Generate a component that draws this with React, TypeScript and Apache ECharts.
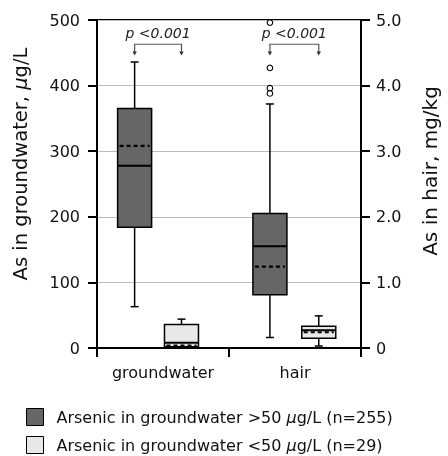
import React, { useEffect, useRef } from 'react';
import * as echarts from 'echarts';

// ---- data ----
const categories = ['groundwater', 'hair'];
// [min, q1, median, q3, max, mean]
const highGroundwater = [63, 184, 278, 365, 436, 308]; // µg/L
const lowGroundwater = [0.5, 2, 8, 36, 44, 3.5]; // µg/L
const highHair = [0.16, 0.81, 1.55, 2.05, 3.72, 1.24]; // mg/kg
const lowHair = [0.03, 0.15, 0.27, 0.33, 0.49, 0.24]; // mg/kg
const hairOutliersHigh = [4.96, 4.27, 3.96, 3.88]; // mg/kg
const pLabels = ['p <0.001', 'p <0.001'];
const leftAxisRange = [0, 500, 100];
const rightAxisRange = [0, 5, 1];

const HIGH_NAME = 'Arsenic in groundwater >50 μg/L (n=255)';
const LOW_NAME = 'Arsenic in groundwater <50 μg/L (n=29)';

const FONT = 'DejaVu Sans';
const DARK = '#666666';
const LIGHT = '#e8e8e8';
const BOX_W = 34;
const CAP_W = 8;
// box centre offsets, as a fraction of the category band, per category
const OFF_HIGH = [-0.215, -0.19];
const OFF_LOW = [0.14, 0.18];

const boxRenderer = (offsets: number[], fill: string) => (params: any, api: any) => {
  const cat = api.value(0);
  const bw = api.size([1, 0])[0];
  const cx = api.coord([cat, 0])[0] + offsets[cat] * bw;
  const yv = (i: number) => api.coord([cat, api.value(i)])[1];
  const yMin = yv(1), yQ1 = yv(2), yMed = yv(3), yQ3 = yv(4), yMax = yv(5), yMean = yv(6);
  const h = BOX_W / 2;
  const stroke = { stroke: '#000', lineWidth: 1.5 };
  return {
    type: 'group',
    children: [
      { type: 'line', shape: { x1: cx, y1: yQ3, x2: cx, y2: yMax }, style: stroke },
      { type: 'line', shape: { x1: cx - CAP_W / 2, y1: yMax, x2: cx + CAP_W / 2, y2: yMax }, style: stroke },
      { type: 'line', shape: { x1: cx, y1: yQ1, x2: cx, y2: yMin }, style: stroke },
      { type: 'line', shape: { x1: cx - CAP_W / 2, y1: yMin, x2: cx + CAP_W / 2, y2: yMin }, style: stroke },
      { type: 'rect', shape: { x: cx - h, y: yQ3, width: BOX_W, height: yQ1 - yQ3 }, style: { fill, stroke: '#000', lineWidth: 1.5 } },
      { type: 'line', shape: { x1: cx - h, y1: yMed, x2: cx + h, y2: yMed }, style: { stroke: '#000', lineWidth: 2 } },
      { type: 'line', shape: { x1: cx - h + 2, y1: yMean, x2: cx + h - 2, y2: yMean }, style: { stroke: '#000', lineWidth: 2.2, lineDash: [4, 3] } },
    ],
  };
};

const outlierRenderer = (offsets: number[]) => (params: any, api: any) => {
  const cat = api.value(0);
  const bw = api.size([1, 0])[0];
  const p = api.coord([cat, api.value(1)]);
  return {
    type: 'circle',
    shape: { cx: p[0] + offsets[cat] * bw, cy: p[1], r: 2.8 },
    style: { fill: '#fff', stroke: '#000', lineWidth: 1.1 },
  };
};

const bracketRenderer = (params: any, api: any) => {
  const cat = api.value(0);
  const bw = api.size([1, 0])[0];
  const c = api.coord([cat, 0])[0];
  const x1 = c + OFF_HIGH[cat] * bw;
  const x2 = c + OFF_LOW[cat] * bw;
  const yText = api.coord([cat, 480])[1];
  const yTop = api.coord([cat, 463])[1];
  const yTip = api.coord([cat, 446])[1];
  const ls = { stroke: '#555', lineWidth: 1.2 };
  const arrow = (x: number) => ({
    type: 'polygon',
    shape: { points: [[x - 2.2, yTip - 4], [x + 2.2, yTip - 4], [x, yTip]] },
    style: { fill: '#333' },
  });
  return {
    type: 'group',
    children: [
      { type: 'polyline', shape: { points: [[x1, yTip - 3], [x1, yTop], [x2, yTop], [x2, yTip - 3]] }, style: { ...ls, fill: 'none' } },
      arrow(x1),
      arrow(x2),
      {
        type: 'text',
        x: (x1 + x2) / 2,
        y: yText,
        style: {
          text: pLabels[params.dataIndex],
          fontFamily: FONT,
          fontSize: 14,
          fontStyle: 'italic',
          fill: '#222',
          align: 'center',
          verticalAlign: 'middle',
        },
      },
    ],
  };
};

export default function App() {
  const ref = useRef<HTMLDivElement>(null);
  useEffect(() => {
    if (!ref.current) return;
    document.body.style.margin = '0';
    const chart = echarts.init(ref.current, null, { renderer: 'svg', width: 448, height: 456 });
    const tickFont = { fontFamily: FONT, fontSize: 16, color: '#111' };
    const nameStyle = (size: number, padLeft: number) => ({
      fontFamily: FONT,
      fontSize: size,
      color: '#111',
      padding: [0, 0, 0, padLeft],
      rich: { i: { fontFamily: FONT, fontSize: size, fontStyle: 'italic', color: '#111' } },
    });
    const axisLineStyle = { color: '#000', width: 2 };
    const legendFormatter = (name: string) => name.replace('μ', '{i|μ}');
    chart.setOption({
      animation: false,
      grid: { left: 97, right: 81, top: 20, bottom: 108, show: true, borderColor: '#000', borderWidth: 2 },
      legend: {
        type: 'plain',
        orient: 'vertical',
        left: 26,
        top: 408,
        height: 60,
        itemWidth: 17,
        itemHeight: 17,
        itemGap: 10,
        padding: 0,
        selectedMode: false,
        icon: 'rect',
        formatter: legendFormatter,
        textStyle: {
          fontFamily: FONT,
          fontSize: 16,
          color: '#111',
          padding: [0, 0, 0, 8],
          rich: { i: { fontFamily: FONT, fontSize: 16, fontStyle: 'italic', color: '#111' } },
        },
        data: [
          { name: HIGH_NAME, itemStyle: { color: DARK, borderColor: '#000', borderWidth: 1 } },
          { name: LOW_NAME, itemStyle: { color: LIGHT, borderColor: '#000', borderWidth: 1 } },
        ],
      },
      xAxis: {
        type: 'category',
        data: categories,
        axisLine: { lineStyle: axisLineStyle },
        axisTick: { show: true, length: 9, interval: 0, lineStyle: axisLineStyle },
        axisLabel: { ...tickFont, margin: 16, interval: 0 },
        splitLine: { show: false },
      },
      yAxis: [
        {
          type: 'value',
          min: leftAxisRange[0],
          max: leftAxisRange[1],
          interval: leftAxisRange[2],
          position: 'left',
          name: 'As in groundwater, {i|μ}g/L',
          nameLocation: 'middle',
          nameGap: 67,
          nameTextStyle: nameStyle(19.5, 40),
          axisLine: { show: true, lineStyle: axisLineStyle },
          axisTick: { show: true, length: 9, lineStyle: axisLineStyle },
          axisLabel: { ...tickFont, margin: 17 },
          splitLine: { show: true, lineStyle: { color: '#bdbdbd', width: 1 } },
        },
        {
          type: 'value',
          min: rightAxisRange[0],
          max: rightAxisRange[1],
          interval: rightAxisRange[2],
          position: 'right',
          name: 'As in hair, mg/kg',
          nameLocation: 'middle',
          nameGap: 59,
          nameTextStyle: nameStyle(20, 26),
          axisLine: { show: true, lineStyle: axisLineStyle },
          axisTick: { show: true, length: 9, lineStyle: axisLineStyle },
          axisLabel: { ...tickFont, margin: 15, formatter: (v: number) => (v === 0 ? '0' : v.toFixed(1)) },
          splitLine: { show: false },
        },
      ],
      series: [
        {
          name: HIGH_NAME, type: 'custom', xAxisIndex: 0, yAxisIndex: 0,
          itemStyle: { color: DARK },
          renderItem: boxRenderer(OFF_HIGH, DARK),
          encode: { x: 0, y: [1, 2, 3, 4, 5, 6] },
          data: [[0, ...highGroundwater]],
        },
        {
          name: HIGH_NAME, type: 'custom', xAxisIndex: 0, yAxisIndex: 1,
          itemStyle: { color: DARK },
          renderItem: boxRenderer(OFF_HIGH, DARK),
          encode: { x: 0, y: [1, 2, 3, 4, 5, 6] },
          data: [[1, ...highHair]],
        },
        {
          name: LOW_NAME, type: 'custom', xAxisIndex: 0, yAxisIndex: 0,
          itemStyle: { color: LIGHT },
          renderItem: boxRenderer(OFF_LOW, LIGHT),
          encode: { x: 0, y: [1, 2, 3, 4, 5, 6] },
          data: [[0, ...lowGroundwater]],
        },
        {
          name: LOW_NAME, type: 'custom', xAxisIndex: 0, yAxisIndex: 1,
          itemStyle: { color: LIGHT },
          renderItem: boxRenderer(OFF_LOW, LIGHT),
          encode: { x: 0, y: [1, 2, 3, 4, 5, 6] },
          data: [[1, ...lowHair]],
        },
        {
          name: 'outliers', type: 'custom', xAxisIndex: 0, yAxisIndex: 1,
          renderItem: outlierRenderer(OFF_HIGH),
          encode: { x: 0, y: 1 },
          data: hairOutliersHigh.map((v) => [1, v]),
          z: 5,
        },
        {
          name: 'significance', type: 'custom', xAxisIndex: 0, yAxisIndex: 0,
          renderItem: bracketRenderer,
          encode: { x: 0 },
          data: categories.map((_, i) => [i]),
          z: 4,
        },
      ],
    });
    return () => chart.dispose();
  }, []);
  return <div ref={ref} style={{ position: 'fixed', left: 0, top: 0, width: 448, height: 456 }} />;
}
